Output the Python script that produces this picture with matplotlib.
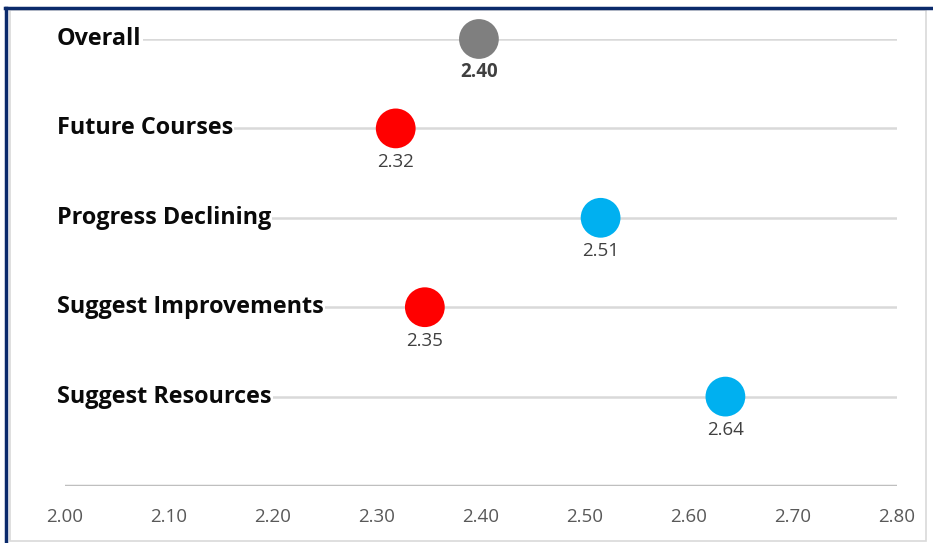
import matplotlib
matplotlib.use("Agg")
import matplotlib.pyplot as plt
from matplotlib.lines import Line2D
from matplotlib.patches import Rectangle

categories = ["Overall", "Future Courses", "Progress Declining",
              "Suggest Improvements", "Suggest Resources"]
values = [2.398, 2.318, 2.515, 2.346, 2.635]
value_labels = ["2.40", "2.32", "2.51", "2.35", "2.64"]
colors = ["#7f7f7f", "#ff0000", "#00b0f0", "#ff0000", "#00b0f0"]
x_ticks = [2.00, 2.10, 2.20, 2.30, 2.40, 2.50, 2.60, 2.70, 2.80]
tick_labels = ["2.00", "2.10", "2.20", "2.30", "2.40", "2.50", "2.60", "2.70", "2.80"]

W, H = 933, 543
fig = plt.figure(figsize=(W / 100, H / 100), dpi=100)
fig.patch.set_facecolor("white")

# axes: x 2.00 at px 65, 2.80 at px 897; y=0 at px 486, y=5 at px 39
left, right = 65 / W, 897 / W
bottom, top = (H - 486) / H, (H - 39) / H
ax = fig.add_axes([left, bottom, right - left, top - bottom])
ax.set_xlim(2.0, 2.8)
ax.set_ylim(0, 5)
for s in ax.spines.values():
    s.set_visible(False)
ax.set_yticks([])
ax.set_xticks(x_ticks)
ax.set_xticklabels(tick_labels, fontfamily="Open Sans", fontsize=13.5, color="#595959")
ax.tick_params(axis="x", length=0, pad=16)

n = len(categories)
ys = [n - i for i in range(n)]

# gridlines
for y in ys:
    ax.axhline(y, color="#d9d9d9", lw=1.8, zorder=1)
ax.axhline(0, color="#bfbfbf", lw=2.5, zorder=1)

# category labels with white background
for y, c in zip(ys, categories):
    ax.text(-0.010, y, c, transform=ax.get_yaxis_transform(), ha="left", va="center",
            fontfamily="Open Sans", fontweight="bold", fontsize=16.8, color="#0a0a0a",
            bbox=dict(facecolor="white", edgecolor="none", pad=1.0), zorder=3)

# markers
ax.scatter(values, ys, s=820, c=colors, zorder=4, clip_on=False, linewidths=0)

# value labels
for i, (v, y, lab) in enumerate(zip(values, ys, value_labels)):
    ax.annotate(lab, (v, y), xytext=(0, -24), textcoords="offset points",
                ha="center", va="center", fontfamily="Open Sans",
                fontsize=13.5, color="#404040",
                fontweight="bold" if i == 0 else "normal", zorder=5)

# frame
fig.add_artist(Rectangle((10 / W, 2 / H), 916 / W, (H - 12) / H, transform=fig.transFigure,
                         fill=False, edgecolor="#d9d9d9", lw=1.2))
fig.add_artist(Line2D([5 / W, 1], [(H - 7.5) / H] * 2, transform=fig.transFigure,
                      color="#0b2a6b", lw=2.5))
fig.add_artist(Line2D([6 / W] * 2, [0, (H - 7.5) / H], transform=fig.transFigure,
                      color="#0b2a6b", lw=2.5))

fig.savefig("out.png", dpi=100, facecolor="white")
